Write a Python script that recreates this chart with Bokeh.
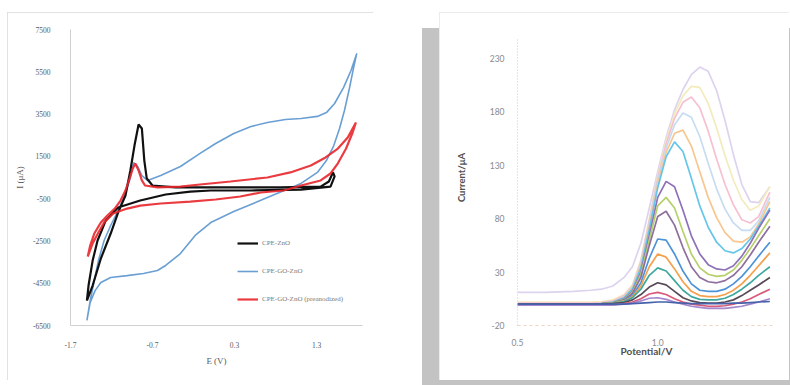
from bokeh.plotting import figure
from bokeh.layouts import row
from bokeh.models import FixedTicker, Legend, LegendItem, Range1d
from bokeh.embed import file_html
from bokeh.resources import INLINE

# ---------------- Left panel: cyclic voltammograms ----------------
cv_x_ticks = [-1.7, -0.7, 0.3, 1.3]
cv_x_labels = ["-1.7", "-0.7", "0.3", "1.3"]
cv_y_ticks = [-6500, -4500, -2500, -500, 1500, 3500, 5500, 7500]
cv_y_labels = ["-6500", "-4500", "-2500", "-500", "1500", "3500", "5500", "7500"]
cv_names = ["CPE-ZnO", "CPE-GO-ZnO", "CPE-GO-ZnO (preanodized)"]

zno_E = [-1.50, -1.43, -1.33, -1.21, -1.12, -1.03, -0.97, -0.92, -0.87, -0.83, -0.80, -0.77,
         -0.70, -0.42, 0.13, 0.86, 1.35, 1.45, 1.50, 1.52, 1.47, 1.11, 0.50, 0.01, -0.24,
         -0.54, -0.85, -1.12, -1.27, -1.37, -1.43, -1.48, -1.50]
zno_I = [-5320, -4610, -3330, -2150, -1160, -350, 830, 2010, 3010, 2820, 1300, 450,
         120, 30, 30, 30, 70, 310, 740, 550, 70, -70, -115, -115, -165,
         -305, -590, -920, -1530, -2480, -3430, -4610, -5320]

go_E = [-1.50, -1.46, -1.41, -1.36, -1.29, -1.21, -1.12, -1.04, -0.98, -0.93, -0.88, -0.83,
        -0.76, -0.60, -0.36, -0.12, 0.07, 0.29, 0.50, 0.70, 0.92, 1.11, 1.31, 1.42, 1.52,
        1.63, 1.72, 1.79, 1.75, 1.70, 1.64, 1.58, 1.51, 1.42, 1.31, 1.11, 0.70, 0.29,
        0.01, -0.18, -0.36, -0.54, -0.64, -0.81, -1.01, -1.21, -1.33, -1.40, -1.46, -1.50]
go_I = [-6260, -5320, -4370, -3430, -2480, -1770, -1060, -350, 360, 1210, 1020, 590,
        360, 590, 1020, 1640, 2110, 2580, 2910, 3100, 3240, 3290, 3390, 3570, 4000,
        4760, 5560, 6370, 5660, 4710, 3670, 2820, 2010, 1300, 740, 220, -450, -1110,
        -1630, -2240, -3100, -3660, -3900, -4040, -4140, -4230, -4470, -4850, -5410, -6260]

pre_E = [-1.49, -1.46, -1.41, -1.33, -1.25, -1.16, -1.09, -1.03, -0.98, -0.94, -0.91, -0.87,
         -0.83, -0.79, -0.64, -0.36, -0.12, 0.25, 0.70, 0.98, 1.23, 1.41, 1.56, 1.68, 1.78,
         1.74, 1.66, 1.56, 1.47, 1.35, 1.11, 0.90, 0.62, 0.37, 0.07, -0.24, -0.60, -0.85,
         -1.01, -1.18, -1.29, -1.36, -1.43, -1.49]
pre_I = [-3240, -2720, -2150, -1630, -1300, -970, -590, -115, 450, 930, 1160, 830,
         360, 120, 30, 70, 170, 310, 500, 740, 1070, 1450, 1870, 2390, 3100,
         2630, 1870, 1170, 690, 360, 120, -115, -210, -400, -540, -640, -730, -830,
         -970, -1200, -1630, -2100, -2620, -3240]

# ---------------- Right panel: differential pulse voltammograms ----------------
dpv_x_ticks = [0.5, 1.0]
dpv_x_labels = ["0.5", "1.0"]
dpv_y_ticks = [-20, 30, 80, 130, 180, 230]
dpv_y_labels = ["-20", "30", "80", "130", "180", "230"]

dpv_E = [0.50, 0.60, 0.70, 0.76, 0.80, 0.84, 0.88, 0.91, 0.94, 0.97, 1.00, 1.03,
         1.06, 1.09, 1.12, 1.15, 1.18, 1.21, 1.24, 1.27, 1.30, 1.33, 1.36, 1.40]
dpv_01 = [11, 11, 12, 13, 14, 17, 25, 35, 57, 90, 124, 156, 182, 201, 215, 222, 218, 200, 172, 140, 112, 96, 95, 110]
dpv_02 = [2, 2, 2, 2, 2.5, 4, 9, 18, 42, 80, 120, 153, 178, 195, 204, 203, 188, 165, 139, 116, 98, 88, 92, 110]
dpv_03 = [1, 1, 1, 1, 1.5, 3, 8, 17, 40, 78, 118, 150, 174, 189, 194, 184, 162, 136, 112, 93, 79, 76, 82, 105]
dpv_04 = [0, 0, 0, 0, 0.7, 2, 7, 16, 38, 76, 115, 146, 168, 179, 175, 157, 132, 108, 89, 76, 69, 69, 78, 100]
dpv_05 = [0, 0, 0, 0, 0.6, 2, 6.5, 15, 36, 73, 112, 142, 160, 163, 148, 124, 100, 81, 67, 59, 58, 63, 75, 96]
dpv_06 = [0, 0, 0, 0, 0.6, 2, 6, 14, 34, 70, 109, 138, 152, 143, 118, 92, 72, 58, 50, 48, 52, 61, 73, 90]
dpv_07 = [0, 0, 0, 0, 0.5, 1.5, 5, 12, 30, 64, 100, 115, 110, 88, 64, 47, 37, 33, 32, 36, 45, 57, 71, 88]
dpv_08 = [0, 0, 0, 0, 0.5, 1.5, 4.5, 11, 28, 60, 92, 100, 90, 68, 47, 34, 28, 26, 27, 32, 41, 52, 64, 80]
dpv_09 = [0, 0, 0, 0, 0.4, 1.2, 4, 10, 25, 55, 82, 87, 74, 53, 35, 25, 21, 20, 22, 27, 35, 46, 58, 73]
dpv_10 = [0, 0, 0, 0, 0.3, 1, 3.5, 8, 20, 43, 61, 60, 47, 31, 19, 13, 12, 12, 14, 19, 26, 35, 45, 58]
dpv_11 = [0, 0, 0, 0, 0.3, 1, 3, 7, 17, 35, 47, 44, 33, 21, 12, 8, 7, 7, 9, 13, 19, 27, 36, 48]
dpv_12 = [0, 0, 0, 0, 0.2, 0.8, 2.5, 6, 14, 27, 34, 31, 22, 13, 7, 4.5, 4, 4, 5.5, 9, 14, 20, 27, 35]
dpv_13 = [0, 0, 0, 0, 0, 0.5, 1.5, 4, 9, 16, 20, 18, 12, 6, 3, 1.5, 1, 1, 2, 4, 8, 13, 18, 25]
dpv_14 = [-1, -1, -1, -1, -1, -0.5, 0.5, 2, 5, 9.5, 11, 9, 5, 2, 0, -1, -2, -2, -1.5, 0, 2, 5, 9, 14]
dpv_15 = [-1, -1, -1, -1, -1, -1, 0, 1, 3, 5.5, 6, 4.5, 2, 0, -2, -3, -4, -4, -4, -3, -2, 0, 2, 5]
dpv_16 = [0, 0, 0, 0, 0, 0, 0, 0.5, 1, 1.5, 2, 2, 1.5, 1, 0.5, 0.5, 0.5, 0.5, 0.5, 1, 1, 1.5, 2, 2.5]

dpv_series = [dpv_01, dpv_02, dpv_03, dpv_04, dpv_05, dpv_06, dpv_07, dpv_08,
              dpv_09, dpv_10, dpv_11, dpv_12, dpv_13, dpv_14, dpv_15, dpv_16]
dpv_colors = ["#ddd3ee", "#f4ebbc", "#f6c0d0", "#c6dcf2", "#f8c68f", "#66c6ea",
              "#8e71b9", "#b7d06c", "#8f6f9e", "#4d93d8", "#f4a04c", "#3fa99f",
              "#574a57", "#d95a78", "#a487cc", "#4562aa"]

# ---------------- Left figure ----------------
p1 = figure(width=366, height=368, x_range=Range1d(-1.7, 1.86), y_range=Range1d(-6500, 7500),
            output_backend="svg", toolbar_location=None,
            min_border_left=63, min_border_right=11, min_border_top=17, min_border_bottom=55)
p1.margin = (12, 0, 0, 7)
p1.styles = {"outline": "1px solid #d9d9d9", "outline-offset": "-1px"}
p1.grid.visible = False
p1.outline_line_color = None
p1.background_fill_color = "white"
p1.border_fill_color = "white"

r_go = p1.line(go_E, go_I, line_color="#6a9fd4", line_width=1.6)
r_zno = p1.line(zno_E, zno_I, line_color="#111111", line_width=2.2)
r_pre = p1.line(pre_E, pre_I, line_color="#e8262b", line_width=2.2, line_alpha=0.9)

p1.xaxis.ticker = FixedTicker(ticks=cv_x_ticks)
p1.xaxis.major_label_overrides = dict(zip(cv_x_ticks, cv_x_labels))
p1.yaxis.ticker = FixedTicker(ticks=cv_y_ticks)
p1.yaxis.major_label_overrides = dict(zip(cv_y_ticks, cv_y_labels))
for ax in (p1.xaxis[0], p1.yaxis[0]):
    ax.major_tick_line_color = None
    ax.minor_tick_line_color = None
    ax.major_tick_out = 0
    ax.major_tick_in = 0
    ax.minor_tick_out = 0
    ax.minor_tick_in = 0
    ax.axis_line_color = "#d0d0d0"
    ax.major_label_text_font = "Liberation Serif"
    ax.major_label_text_font_size = "7.5px"
    ax.major_label_text_color = "#5a5a5a"
    ax.axis_label_text_font = "Liberation Serif"
    ax.axis_label_text_font_size = "9px"
    ax.axis_label_text_font_style = "normal"
    ax.axis_label_text_color = "#5a5a5a"
p1.xaxis.axis_label = "E (V)"
p1.yaxis.axis_label = "I (μA)"
p1.xaxis.major_label_standoff = 16
p1.yaxis.major_label_standoff = 20
p1.xaxis.axis_label_standoff = 5
p1.yaxis.axis_label_standoff = 5

legend = Legend(items=[LegendItem(label=cv_names[0], renderers=[r_zno]),
                       LegendItem(label=cv_names[1], renderers=[r_go]),
                       LegendItem(label=cv_names[2], renderers=[r_pre])],
                location=(167, 19))
legend.background_fill_alpha = 0
legend.border_line_color = None
legend.padding = 0
legend.margin = 0
legend.spacing = 14
legend.glyph_height = 14
legend.label_height = 14
legend.glyph_width = 21
legend.label_standoff = 4
legend.label_text_font = "Liberation Serif"
legend.label_text_font_size = "7px"
legend.label_text_color = "#7a7a7a"
p1.add_layout(legend, "center")

# ---------------- Right figure ----------------
p2 = figure(width=350, height=368, x_range=Range1d(0.5, 1.42), y_range=Range1d(-20, 257.2),
            output_backend="svg", toolbar_location=None,
            min_border_left=78, min_border_right=14, min_border_top=17, min_border_bottom=55)
p2.margin = (12, 0, 0, 0)
p2.styles = {"outline": "1px solid #e6e6e6", "outline-offset": "-1px",
             "box-shadow": "-5px 28px 0px 12px #c3c3c3"}
p2.grid.visible = False
p2.outline_line_color = None
p2.background_fill_color = "white"
p2.border_fill_color = "white"

for ys, c in zip(dpv_series, dpv_colors):
    p2.line(dpv_E, ys, line_color=c, line_width=1.7)

p2.xaxis.ticker = FixedTicker(ticks=dpv_x_ticks)
p2.xaxis.major_label_overrides = dict(zip(dpv_x_ticks, dpv_x_labels))
p2.yaxis.ticker = FixedTicker(ticks=dpv_y_ticks)
p2.yaxis.major_label_overrides = dict(zip(dpv_y_ticks, dpv_y_labels))
p2.yaxis.bounds = (-20, 250)
for ax in (p2.xaxis[0], p2.yaxis[0]):
    ax.major_tick_line_color = None
    ax.minor_tick_line_color = None
    ax.major_tick_out = 0
    ax.major_tick_in = 0
    ax.minor_tick_out = 0
    ax.minor_tick_in = 0
    ax.major_label_text_font = "Lato"
    ax.major_label_text_font_size = "8.5px"
    ax.major_label_text_color = "#8a8a8a"
    ax.axis_label_text_font = "Lato"
    ax.axis_label_text_font_style = "bold"
    ax.axis_label_text_color = "#505050"
p2.xaxis.axis_line_color = "#f0d4c4"
p2.xaxis.axis_line_dash = "3 3"
p2.yaxis.axis_line_color = "#cccccc"
p2.yaxis.axis_line_dash = "1 2"
p2.xaxis.axis_label = "Potential/V"
p2.yaxis.axis_label = "Current/μA"
p2.xaxis.axis_label_text_font_size = "10px"
p2.yaxis.axis_label_text_font_size = "9.5px"
p2.xaxis.major_label_standoff = 13
p2.yaxis.major_label_standoff = 13
p2.xaxis.axis_label_standoff = -4
p2.yaxis.axis_label_standoff = 20

layout = row(p1, p2, spacing=66)
open("out.html", "w").write(file_html(layout, INLINE))
